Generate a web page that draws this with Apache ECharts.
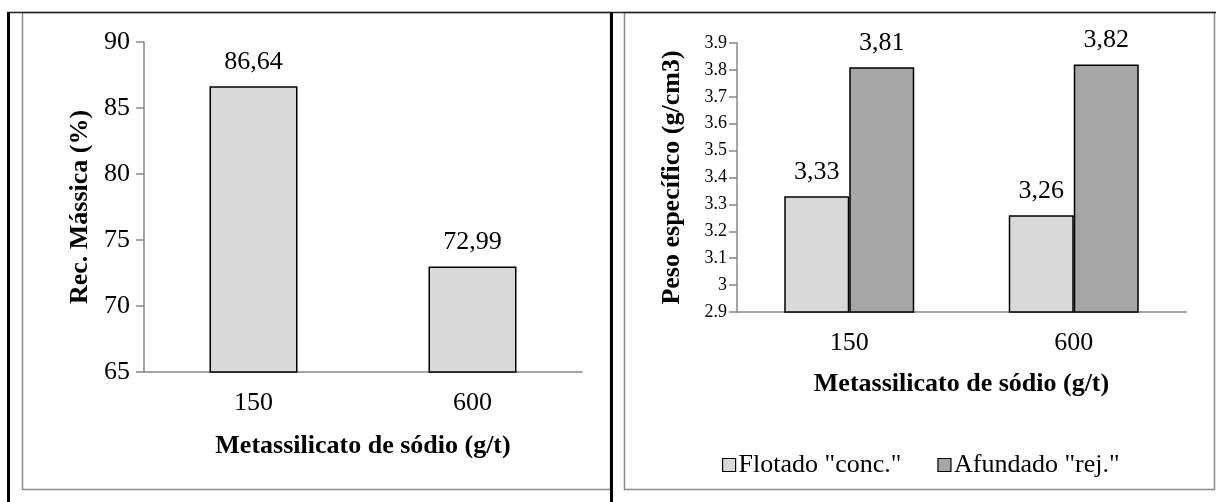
<!DOCTYPE html>
<html>
<head>
<meta charset="utf-8">
<script src="https://cdn.jsdelivr.net/npm/echarts@6/dist/echarts.min.js"></script>
<style>
html,body{margin:0;padding:0;background:#fff;}
#c{width:1216px;height:502px;}
</style>
</head>
<body>
<div id="c"></div>
<script>
var categories = ['150', '600'];
var recMassica = [86.64, 72.99];
var flotado = [3.33, 3.26];
var afundado = [3.81, 3.82];
var seriesNames = ['Flotado "conc."', 'Afundado "rej."'];
var xTitle = 'Metassilicato de sódio (g/t)';
var yTitleLeft = 'Rec. Mássica (%)';
var yTitleRight = 'Peso específico (g/cm3)';

var FONT = '"Liberation Serif", "Times New Roman", serif';
var AXIS = '#868686';
var FS = 26;
function comma(p){ return String(p.value).replace('.', ','); }

var chart = echarts.init(document.getElementById('c'), null, {renderer:'canvas'});
chart.setOption({
  animation: false,
  backgroundColor: '#fff',
  textStyle: {fontFamily: FONT},
  graphic: [
    {type:'rect', shape:{x:22.5, y:12.5, width:588, height:477}, style:{fill:'none', stroke:'#8a8a8a', lineWidth:1.5}, z:0},
    {type:'rect', shape:{x:624.5, y:12.5, width:590, height:477}, style:{fill:'none', stroke:'#8a8a8a', lineWidth:1.5}, z:0},
    {type:'line', shape:{x1:7, y1:12.5, x2:1216, y2:12.5}, style:{stroke:'#222', lineWidth:1.5}, z:1},
    {type:'line', shape:{x1:8.5, y1:12, x2:8.5, y2:502}, style:{stroke:'#000', lineWidth:3}, z:1},
    {type:'line', shape:{x1:611.5, y1:12, x2:611.5, y2:502}, style:{stroke:'#000', lineWidth:3}, z:1}
  ],
  grid: [
    {left:144, top:42, width:438, height:330},
    {left:737, top:43, width:449, height:269}
  ],
  legend: {
    data: seriesNames,
    left: 717, top: 447,
    itemWidth: 13, itemHeight: 13, itemGap: 36,
    icon: 'rect',
    itemStyle: {borderColor:'#000', borderWidth:1.2},
    textStyle: {fontFamily: FONT, fontSize: FS, color:'#000', padding:[0,0,0,-2]}
  },
  xAxis: [
    {type:'category', gridIndex:0, data:categories,
     axisLine:{lineStyle:{color:AXIS, width:1.5}},
     axisTick:{length:8, lineStyle:{color:AXIS, width:1.5}},
     axisLabel:{color:'#000', fontSize:FS, fontFamily:FONT, margin:18},
     name:xTitle, nameLocation:'middle', nameGap:61,
     nameTextStyle:{color:'#000', fontSize:FS, fontWeight:'bold', fontFamily:FONT}},
    {type:'category', gridIndex:1, data:categories,
     axisLine:{lineStyle:{color:AXIS, width:1.5}},
     axisTick:{length:8, lineStyle:{color:AXIS, width:1.5}},
     axisLabel:{color:'#000', fontSize:FS, fontFamily:FONT, margin:18},
     name:xTitle, nameLocation:'middle', nameGap:59,
     nameTextStyle:{color:'#000', fontSize:FS, fontWeight:'bold', fontFamily:FONT}}
  ],
  yAxis: [
    {type:'value', gridIndex:0, min:65, max:90, interval:5,
     splitLine:{show:false},
     axisLine:{show:true, lineStyle:{color:AXIS, width:1.5}},
     axisTick:{show:true, length:8, lineStyle:{color:AXIS, width:1.5}},
     axisLabel:{color:'#000', fontSize:FS, fontFamily:FONT, margin:14},
     name:yTitleLeft, nameLocation:'middle', nameGap:51, nameRotate:90,
     nameTextStyle:{color:'#000', fontSize:FS, fontWeight:'bold', fontFamily:FONT}},
    {type:'value', gridIndex:1, min:2.9, max:3.9, interval:0.1,
     splitLine:{show:false},
     axisLine:{show:true, lineStyle:{color:AXIS, width:1.5}},
     axisTick:{show:true, length:8, lineStyle:{color:AXIS, width:1.5}},
     axisLabel:{color:'#000', fontSize:18, fontFamily:FONT, margin:10},
     name:yTitleRight, nameLocation:'middle', nameGap:52, nameRotate:90,
     nameTextStyle:{color:'#000', fontSize:FS, fontWeight:'bold', fontFamily:FONT}}
  ],
  series: [
    {type:'bar', xAxisIndex:0, yAxisIndex:0, data:recMassica, barWidth:88,
     itemStyle:{color:'#d9d9d9', borderColor:'#000', borderWidth:1.5},
     label:{show:true, position:'top', distance:11, formatter:comma, color:'#000', fontSize:FS, fontFamily:FONT}},
    {type:'bar', name:seriesNames[0], xAxisIndex:1, yAxisIndex:1, data:flotado, barWidth:65, barGap:'0%',
     itemStyle:{color:'#d9d9d9', borderColor:'#000', borderWidth:1.5},
     label:{show:true, position:'top', distance:11, formatter:comma, color:'#000', fontSize:FS, fontFamily:FONT}},
    {type:'bar', name:seriesNames[1], xAxisIndex:1, yAxisIndex:1, data:afundado, barWidth:65, barGap:'0%',
     itemStyle:{color:'#a6a6a6', borderColor:'#000', borderWidth:1.5},
     label:{show:true, position:'top', distance:11, formatter:comma, color:'#000', fontSize:FS, fontFamily:FONT}}
  ]
});
</script>
</body>
</html>
